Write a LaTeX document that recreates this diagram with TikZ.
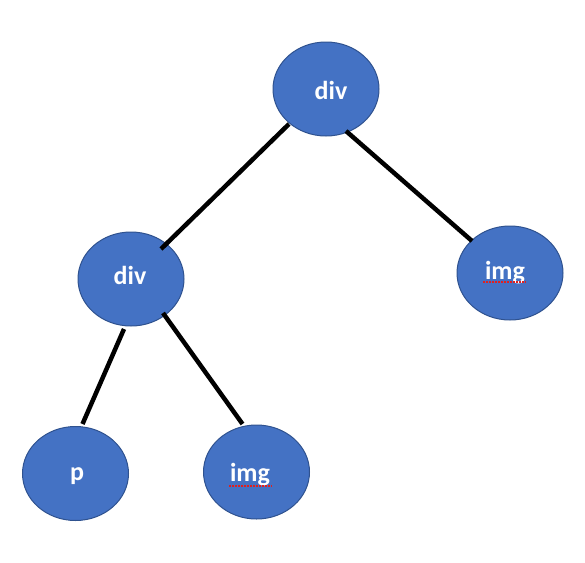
\documentclass[tikz,border=0pt]{standalone}
\usepackage{fontspec}
\setmainfont{Carlito}
\usetikzlibrary{shapes.geometric,calc}
\definecolor{nodefill}{HTML}{4472C4}
\definecolor{nodeline}{HTML}{2F528F}
\definecolor{spellred}{HTML}{E02020}
\tikzset{
  treenode/.style={ellipse, draw=nodeline, line width=1pt, fill=nodefill,
    minimum width=106pt, minimum height=94pt, inner sep=0pt},
  lbl/.style={text=white, font=\bfseries\fontsize{26}{26}\selectfont, inner sep=0pt},
  edge/.style={line width=4.5pt, black},
  squiggle/.style={spellred, line width=1.2pt, dash pattern=on 1.5pt off 1.5pt}
}
\begin{document}
\begin{tikzpicture}[x=1pt,y=-1pt]
\useasboundingbox (0,0) rectangle (585,562);
\node[treenode] (root) at (326,89) {};
\node[treenode] (ldiv) at (131,279) {};
\node[treenode] (rimg) at (510,273) {};
\node[treenode] (p) at (75.5,473.5) {};
\node[treenode] (bimg) at (256.5,472) {};
\node[lbl] (t1) at (331,90) {div};
\node[lbl] (t2) at (130,275) {div};
\node[lbl] (t3) at (505,273) {img};
\node[lbl] (t4) at (77,476) {p};
\node[lbl] (t5) at (250,475) {img};
\draw[squiggle] ($(t3)+(-22,9)$) coordinate (s1a) -- ($(t3)+(21,9)$) coordinate (s1b);
\draw[squiggle] ($(t5)+(-21,11)$) coordinate (s2a) -- ($(t5)+(22,11)$) coordinate (s2b);
\draw[edge] ($(root)+(-37,35)$) -- ($(ldiv)+(30,-30)$);
\draw[edge] ($(root)+(20,42)$) -- ($(rimg)+(-38,-32)$);
\draw[edge] ($(ldiv)+(-7,50)$) -- ($(p)+(7,-49.5)$);
\draw[edge] ($(ldiv)+(32,34)$) -- ($(bimg)+(-14,-48)$);
\end{tikzpicture}
\end{document}
